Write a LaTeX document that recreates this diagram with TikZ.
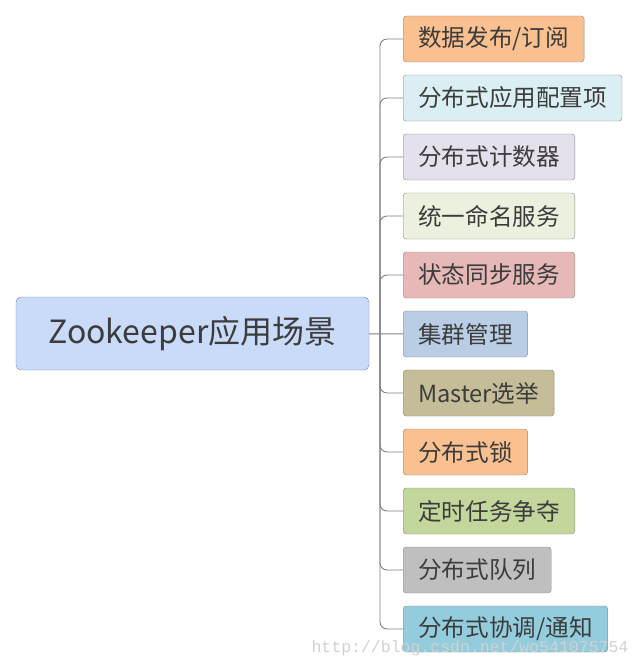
\documentclass[tikz,border=0pt]{standalone}
\usepackage{fontspec}
\setmainfont{Noto Sans CJK SC}
\newfontfamily\wmfont{Liberation Mono}
\definecolor{txtgray}{HTML}{3C3C3C}
\definecolor{linegray}{HTML}{808080}
\definecolor{rootfill}{HTML}{C9DBF9}
\definecolor{rootdraw}{HTML}{6F86B3}
\definecolor{cOrange}{HTML}{FAC090}
\definecolor{cCyan}{HTML}{DAEEF3}
\definecolor{cLav}{HTML}{E5E0EC}
\definecolor{cPale}{HTML}{EBF1DE}
\definecolor{cRose}{HTML}{E6B9B8}
\definecolor{cSteel}{HTML}{B9CDE5}
\definecolor{cKhaki}{HTML}{C4BD97}
\definecolor{cGreen}{HTML}{C3D69B}
\definecolor{cGray}{HTML}{BFBFBF}
\definecolor{cBlue}{HTML}{93CDDD}
\tikzset{
  root/.style={draw=rootdraw, fill=rootfill, rounded corners=5pt, minimum width=353pt,
    minimum height=73pt, text=txtgray, font=\fontsize{32}{37}\selectfont},
  leaf/.style={draw=linegray!90, rounded corners=3pt, anchor=west, minimum height=46pt,
    inner xsep=15pt, text=txtgray, font=\fontsize{23.6}{27}\selectfont},
  branch/.style={draw=linegray, line width=0.9pt, rounded corners=7pt}
}
\begin{document}
\begin{tikzpicture}[x=1pt,y=-1pt]
        \useasboundingbox (0,0) rectangle (641,669);
        % Nodes
        \node(root) [root] at (192.5,333.5) {Zookeeper应用场景};
        \node(pub)   [leaf, fill=cOrange] at (403,39)  {数据发布/订阅};
        \node(conf)  [leaf, fill=cCyan]   at (403,98)  {分布式应用配置项};
        \node(count) [leaf, fill=cLav]    at (403,157) {分布式计数器};
        \node(name)  [leaf, fill=cPale]   at (403,216) {统一命名服务};
        \node(sync)  [leaf, fill=cRose]   at (403,275) {状态同步服务};
        \node(clus)  [leaf, fill=cSteel]  at (403,334) {集群管理};
        \node(elect) [leaf, fill=cKhaki]  at (403,393) {Master选举};
        \node(lock)  [leaf, fill=cOrange] at (403,452) {分布式锁};
        \node(task)  [leaf, fill=cGreen]  at (403,511) {定时任务争夺};
        \node(queue) [leaf, fill=cGray]   at (403,570) {分布式队列};
        \node(coord) [leaf, fill=cBlue]   at (403,629) {分布式协调/通知};
        \coordinate(hub) at (380,334);
        \node(wm) [text=black!18, font=\wmfont\fontsize{16.5}{18}\selectfont] at (470,648) {http://blog.csdn.net/wo541075754};

        % Edges
        \draw[branch] (root) -- (clus);
        \draw[branch] (hub) |- (pub);
        \draw[branch] (hub) |- (conf);
        \draw[branch] (hub) |- (count);
        \draw[branch] (hub) |- (name);
        \draw[branch] (hub) |- (sync);
        \draw[branch] (hub) |- (elect);
        \draw[branch] (hub) |- (lock);
        \draw[branch] (hub) |- (task);
        \draw[branch] (hub) |- (queue);
        \draw[branch] (hub) |- (coord);
    \end{tikzpicture}
\end{document}
